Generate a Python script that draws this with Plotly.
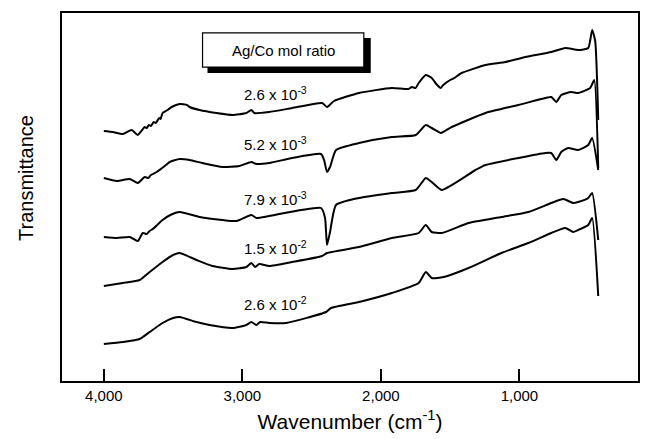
import plotly.graph_objects as go

# FTIR spectra of Ag/Co samples, stacked with vertical offsets (arbitrary units)
wn_a = [4000, 3935, 3863, 3799, 3755, 3705, 3690, 3675, 3660, 3640, 3625, 3600, 3590, 3576,
        3540, 3511, 3453, 3400, 3381, 3309, 3187, 3072, 2971, 2935, 2914, 2806, 2640, 2424,
        2389, 2338, 2158, 1921, 1800, 1777, 1750, 1727, 1676, 1633, 1600, 1568, 1550, 1532,
        1500, 1470, 1417, 1245, 1101, 957, 770, 669, 576, 503, 475, 453, 431]
t_a = [250, 249, 247, 251, 246, 254, 253, 256, 255, 259, 258, 263, 262, 268,
       271, 274, 277, 276, 274, 271, 268, 266, 268, 271, 268, 269, 273, 278,
       274, 280, 288, 293, 292, 294, 293, 298, 306, 303, 297, 293, 296, 298,
       301, 303, 308, 316, 319, 324, 329, 333, 331, 333, 351, 340, 261]

wn_b = [4000, 3906, 3813, 3755, 3705, 3680, 3660, 3619, 3560, 3525, 3453, 3381, 3288, 3144,
        3022, 2935, 2899, 2806, 2640, 2432, 2410, 2389, 2367, 2324, 2158, 1921, 1748, 1676,
        1633, 1583, 1568, 1489, 1245, 1007, 813, 770, 734, 698, 627, 576, 489, 460, 431]
t_b = [203, 200, 202, 198, 204, 203, 206, 209, 215, 219, 222, 221, 218, 214,
       215, 219, 217, 218, 223, 227, 221, 209, 214, 231, 238, 244, 246, 256,
       253, 249, 248, 254, 268, 276, 283, 284, 279, 286, 289, 288, 293, 301, 213]

wn_c = [4000, 3906, 3813, 3755, 3719, 3690, 3670, 3647, 3576, 3520, 3453, 3309, 3144, 3043,
        2935, 2899, 2806, 2432, 2403, 2389, 2367, 2324, 2158, 1921, 1748, 1676, 1633, 1561,
        1317, 1245, 1007, 813, 770, 734, 698, 648, 576, 503, 475, 431]
t_c = [144, 143, 144, 140, 148, 147, 150, 152, 161, 166, 169, 164, 161, 160,
       166, 163, 165, 173, 163, 136, 149, 176, 183, 188, 191, 203, 199, 191,
       211, 216, 223, 228, 228, 221, 229, 233, 231, 236, 243, 211]

wn_d = [4000, 3863, 3741, 3669, 3576, 3500, 3453, 3331, 3216, 3072, 2971, 2935, 2907, 2878,
        2806, 2640, 2424, 2389, 2158, 1921, 1727, 1676, 1633, 1561, 1367, 1130, 935, 770,
        683, 612, 576, 503, 475, 431]
t_d = [95, 98, 101, 109, 119, 126, 128, 121, 115, 112, 114, 118, 114, 117,
       115, 119, 125, 128, 134, 143, 148, 156, 149, 148, 158, 164, 169, 178,
       182, 178, 179, 183, 188, 141]

wn_e = [4000, 3863, 3741, 3669, 3576, 3500, 3453, 3331, 3237, 3072, 2971, 2935, 2899, 2871,
        2806, 2683, 2396, 2360, 2158, 1921, 1727, 1676, 1633, 1547, 1367, 1130, 935, 770,
        669, 612, 576, 503, 475, 431]
t_e = [37, 39, 42, 49, 58, 63, 64, 59, 56, 53, 56, 59, 56, 59,
       58, 58, 69, 73, 79, 88, 98, 109, 103, 104, 113, 128, 138, 148,
       153, 149, 151, 156, 163, 85]

series = [(wn_a, t_a), (wn_b, t_b), (wn_c, t_c), (wn_d, t_d), (wn_e, t_e)]

ratio_labels = ["2.6 x 10<sup>-3</sup>", "5.2 x 10<sup>-3</sup>", "7.9 x 10<sup>-3</sup>",
                "1.5 x 10<sup>-2</sup>", "2.6 x 10<sup>-2</sup>"]
label_wn = [2763, 2763, 2763, 2763, 2763]
label_t = [288, 238, 183, 134, 78]

tick_vals = [4000, 3000, 2000, 1000]
tick_text = ["4,000", "3,000", "2,000", "1,000"]

FONT = "Liberation Sans, Arial, Helvetica, sans-serif"

fig = go.Figure()
for wn, t in series:
    fig.add_trace(go.Scatter(x=wn, y=t, mode="lines",
                             line=dict(color="black", width=2, shape="spline", smoothing=0.5),
                             showlegend=False, hoverinfo="skip"))

for text, xv, yv in zip(ratio_labels, label_wn, label_t):
    fig.add_annotation(x=xv, y=yv, xref="x", yref="y", text=text, showarrow=False,
                       font=dict(family=FONT, size=15, color="black"),
                       xanchor="center", yanchor="middle")

# Title box with drop shadow
fig.add_shape(type="rect", xref="paper", yref="paper", x0=0.2526, x1=0.536, y0=0.837, y1=0.932,
              fillcolor="black", line=dict(width=0), layer="above")
fig.add_shape(type="rect", xref="paper", yref="paper", x0=0.244, x1=0.524, y0=0.853, y1=0.946,
              fillcolor="white", line=dict(color="black", width=1.2), layer="above")
fig.add_annotation(x=0.384, y=0.899, xref="paper", yref="paper", text="Ag/Co mol ratio",
                   showarrow=False, font=dict(family=FONT, size=15, color="black"),
                   xanchor="center", yanchor="middle")

# Vertical axis title
fig.add_annotation(x=-0.0623, y=0.552, xref="paper", yref="paper", text="Transmittance",
                   textangle=-90, showarrow=False,
                   font=dict(family=FONT, size=20, color="black"),
                   xanchor="center", yanchor="middle")

fig.update_layout(
    width=645, height=439,
    margin=dict(l=62, r=5, t=13, b=58),
    paper_bgcolor="white", plot_bgcolor="white",
    font=dict(family=FONT, color="black"),
    xaxis=dict(range=[4302, 144], showgrid=False, zeroline=False,
               showline=True, linecolor="black", linewidth=2, mirror=True,
               ticks="inside", ticklen=12, tickwidth=2, tickcolor="black",
               tickvals=tick_vals, ticktext=tick_text,
               tickfont=dict(family=FONT, size=15, color="black"),
               title=dict(text="Wavenumber (cm<sup>-1</sup>)",
                          font=dict(family=FONT, size=21, color="black"), standoff=11)),
    yaxis=dict(range=[0, 368], showgrid=False, zeroline=False,
               showline=True, linecolor="black", linewidth=2, mirror=True,
               showticklabels=False, ticks=""),
)

fig.write_html("out.html")
